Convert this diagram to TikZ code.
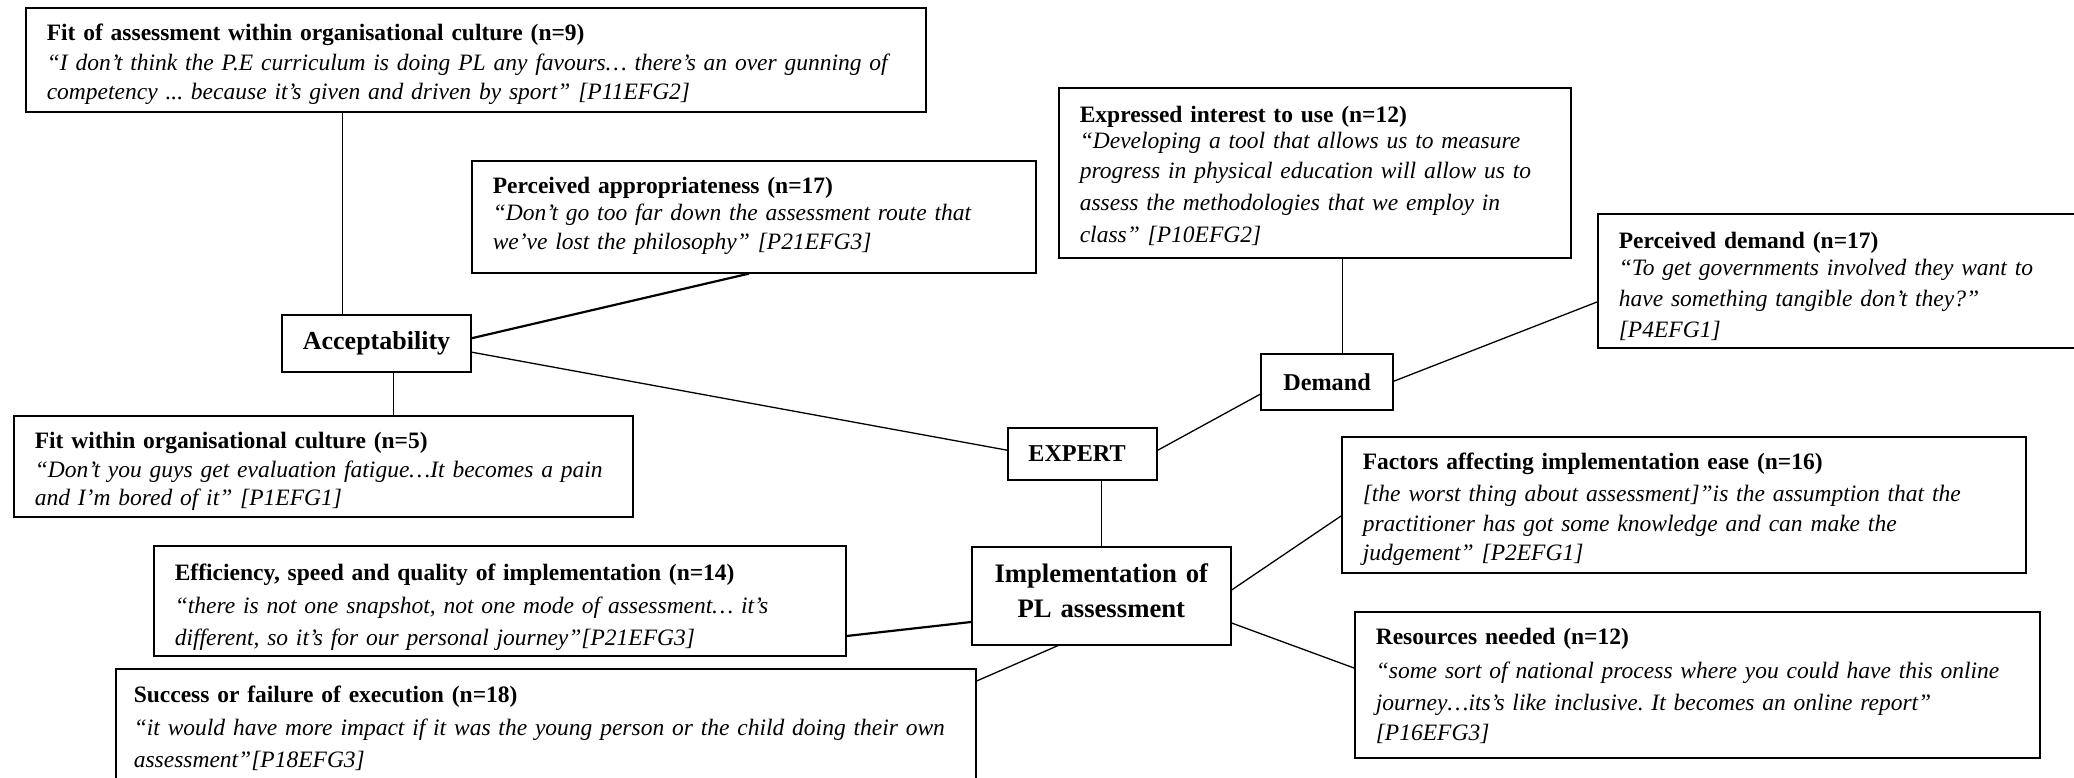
\documentclass[tikz,border=0pt]{standalone}
\usepackage{fontspec}
\setmainfont{Liberation Serif}
\usetikzlibrary{calc}
\frenchspacing
\newcommand\topgap[1]{\rule{0pt}{#1pt}}
\newcommand\botgap[1]{\rule[-#1pt]{0pt}{#1pt}}
\tikzset{
  qbox/.style={draw=black, line width=1.6pt, anchor=north west, align=left,
    inner xsep=21pt, inner ysep=0pt, font=\fontsize{23.5}{29}\selectfont\frenchspacing},
  cbox/.style={draw=black, line width=1.6pt, align=center, inner sep=0pt,
    font=\fontsize{24.2}{29}\selectfont\bfseries},
  link/.style={line width=1.3pt},
  thicklink/.style={line width=2.2pt}
}
\begin{document}
\begin{tikzpicture}[x=1pt,y=-1pt]
\useasboundingbox (0,0) rectangle (2074,778);

% outer boxes
\node[qbox, minimum width=900, text width=858] (fit1) at (25,7)
 {\mbox{\topgap{33.2}\textbf{Fit of assessment within organisational culture (n=9)}}\\[0.1pt]
  \itshape\mbox{“I don’t think the P.E curriculum is doing PL any favours… there’s an over gunning of}\\[0.1pt]
  \mbox{competency ... because it’s given and driven by sport” [P11EFG2]\botgap{12.6}}};

\node[qbox, minimum width=564, text width=522] (appr) at (471,160)
 {\mbox{\topgap{32.3}\textbf{Perceived appropriateness (n=17)}}\\[-1.2pt]
  \itshape\mbox{“Don’t go too far down the assessment route that}\\[0.1pt]
  \mbox{we’ve lost the philosophy” [P21EFG3]\botgap{22.8}}};

\node[qbox, minimum width=619, text width=577] (fitw) at (13,415)
 {\mbox{\topgap{32.6}\textbf{Fit within organisational culture (n=5)}}\\[0.1pt]
  \itshape\mbox{“Don’t you guys get evaluation fatigue…It becomes a pain}\\[-1.2pt]
  \mbox{and I’m bored of it” [P1EFG1]\botgap{11.5}}};

\node[qbox, minimum width=512, text width=470] (expr) at (1058,87)
 {\mbox{\topgap{35.2}\textbf{Expressed interest to use (n=12)}}\\[-3.9pt]
  \itshape\mbox{“Developing a tool that allows us to measure}\\[1.5pt]
  \mbox{progress in physical education will allow us to}\\[2.7pt]
  \mbox{assess the methodologies that we employ in}\\[2.8pt]
  \mbox{class” [P10EFG2]\botgap{15.7}}};

\node[qbox, minimum width=490, text width=448] (pdem) at (1597,213)
 {\mbox{\topgap{34.9}\textbf{Perceived demand (n=17)}}\\[-2.6pt]
  \itshape\mbox{“To get governments involved they want to}\\[2.8pt]
  \mbox{have something tangible don’t they?”}\\[1.4pt]
  \mbox{[P4EFG1]\botgap{10.5}}};

\node[qbox, minimum width=684, text width=642] (fact) at (1341,436)
 {\mbox{\topgap{32.8}\textbf{Factors affecting implementation ease (n=16)}}\\[2.7pt]
  \itshape\mbox{[the worst thing about assessment]”is the assumption that the}\\[1.5pt]
  \mbox{practitioner has got some knowledge and can make the}\\[0.1pt]
  \mbox{judgement” [P2EFG1]\botgap{12}}};

\node[qbox, minimum width=685, text width=643] (res) at (1354,611)
 {\mbox{\topgap{32.4}\textbf{Resources needed (n=12)}}\\[5.4pt]
  \itshape\mbox{“some sort of national process where you could have this online}\\[2.7pt]
  \mbox{journey…its’s like inclusive. It becomes an online report”}\\[1.5pt]
  \mbox{[P16EFG3]\botgap{17}}};

\node[qbox, minimum width=692, text width=650] (eff) at (153,545)
 {\mbox{\topgap{34.9}\textbf{Efficiency, speed and quality of implementation (n=14)}}\\[4.1pt]
  \itshape\mbox{“there is not one snapshot, not one mode of assessment… it’s}\\[2.7pt]
  \mbox{different, so it’s for our personal journey”[P21EFG3]\botgap{10.3}}};

\node[qbox, inner xsep=18pt, minimum width=860, text width=824] (succ) at (115,668)
 {\mbox{\topgap{33.6}\textbf{Success or failure of execution (n=18)}}\\[4pt]
  \itshape\mbox{“it would have more impact if it was the young person or the child doing their own}\\[2.8pt]
  \mbox{assessment”[P18EFG3]\botgap{24}}};

% central nodes
\node[cbox, minimum width=189, minimum height=57, font=\fontsize{26}{29}\selectfont\bfseries] (acc) at (376.5,343.5) {Acceptability};
\node[cbox, minimum width=149, minimum height=52] (expert) at (1082.5,454) {EXPERT\kern11pt};
\node[cbox, minimum width=132, minimum height=56] (demand) at (1327,382) {Demand};
\node[cbox, anchor=north west, text width=259, font=\fontsize{26.7}{35}\selectfont\bfseries] (impl) at (971,546)
 {\topgap{35.2}Implementation of\\[0.8pt]PL assessment\botgap{27}};

% connectors
\coordinate (a1) at ($(acc.north west)+(61,0)$);
\draw[link] (a1) -- (a1 |- fit1.south);
\coordinate (a2) at ($(acc.south west)+(112,0)$);
\draw[link] (a2) -- (a2 |- fitw.north);
\draw[thicklink] ($(acc.north east)+(0,24)$) -- ($(appr.south west)+(278,0)$);
\draw[link] ($(acc.north east)+(0,38)$) -- ($(expert.north west)+(0,23)$);
\draw[link] ($(expert.north east)+(0,23)$) -- ($(demand.north west)+(0,41)$);
\coordinate (d1) at ($(demand.north west)+(82,0)$);
\draw[link] (d1) -- (d1 |- expr.south);
\draw[link] ($(demand.north east)+(0,28)$) -- ($(pdem.north west)+(0,89)$);
\draw[link] (impl.north) -- (impl.north |- expert.south);
\draw[link] ($(impl.north east)+(0,44)$) -- ($(fact.north west)+(0,80)$);
\draw[link] ($(impl.north east)+(0,77)$) -- ($(res.north west)+(0,57)$);
\draw[thicklink] ($(impl.north west)+(0,76)$) -- ($(eff.north east)+(0,91)$);
\draw[link] ($(impl.south west)+(87,0)$) -- ($(succ.north east)+(0,13)$);
\end{tikzpicture}
\end{document}
